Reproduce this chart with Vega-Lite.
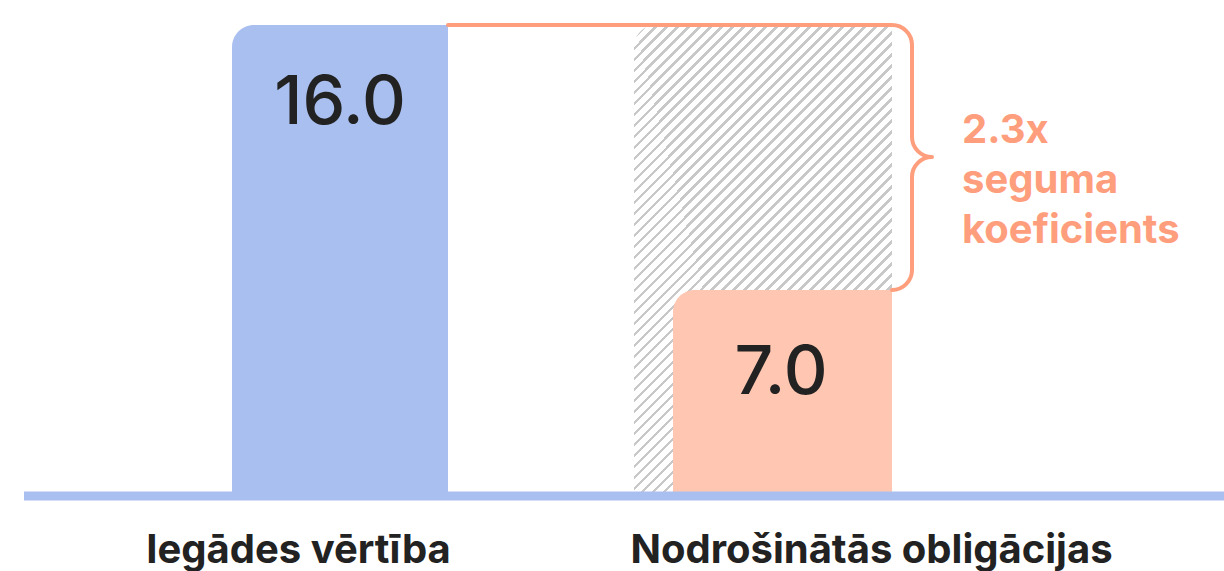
{
"$schema": "https://vega.github.io/schema/vega-lite/v6.json",
"width": 1200,
"height": 471,
"autosize": "none",
"padding": {"left": 24, "top": 25, "right": 0, "bottom": 75},
"background": "white",
"config": {"view": {"stroke": null}},
"layer": [
{
"data": {"values": [{"category": "Nodrošinātās obligācijas", "value": 16, "kind": "seguma vērtība"}]},
"mark": {"type": "bar", "width": 258, "cornerRadiusTopLeft": 22,
"fill": {"gradient": "linear", "x1": 0, "y1": 0, "x2": 0.7873, "y2": 1.4371, "stops": [
{"offset":0,"color":"#c8c8c8"},{"offset":0.0045,"color":"#c8c8c8"},{"offset":0.0045,"color":"#fff"},{"offset":0.0125,"color":"#fff"},
{"offset":0.0125,"color":"#c8c8c8"},{"offset":0.017,"color":"#c8c8c8"},{"offset":0.017,"color":"#fff"},{"offset":0.025,"color":"#fff"},
{"offset":0.025,"color":"#c8c8c8"},{"offset":0.0295,"color":"#c8c8c8"},{"offset":0.0295,"color":"#fff"},{"offset":0.0375,"color":"#fff"},
{"offset":0.0375,"color":"#c8c8c8"},{"offset":0.042,"color":"#c8c8c8"},{"offset":0.042,"color":"#fff"},{"offset":0.05,"color":"#fff"},
{"offset":0.05,"color":"#c8c8c8"},{"offset":0.0545,"color":"#c8c8c8"},{"offset":0.0545,"color":"#fff"},{"offset":0.0625,"color":"#fff"},
{"offset":0.0625,"color":"#c8c8c8"},{"offset":0.067,"color":"#c8c8c8"},{"offset":0.067,"color":"#fff"},{"offset":0.075,"color":"#fff"},
{"offset":0.075,"color":"#c8c8c8"},{"offset":0.0795,"color":"#c8c8c8"},{"offset":0.0795,"color":"#fff"},{"offset":0.0875,"color":"#fff"},
{"offset":0.0875,"color":"#c8c8c8"},{"offset":0.092,"color":"#c8c8c8"},{"offset":0.092,"color":"#fff"},{"offset":0.1,"color":"#fff"},
{"offset":0.1,"color":"#c8c8c8"},{"offset":0.1045,"color":"#c8c8c8"},{"offset":0.1045,"color":"#fff"},{"offset":0.1125,"color":"#fff"},
{"offset":0.1125,"color":"#c8c8c8"},{"offset":0.117,"color":"#c8c8c8"},{"offset":0.117,"color":"#fff"},{"offset":0.125,"color":"#fff"},
{"offset":0.125,"color":"#c8c8c8"},{"offset":0.1295,"color":"#c8c8c8"},{"offset":0.1295,"color":"#fff"},{"offset":0.1375,"color":"#fff"},
{"offset":0.1375,"color":"#c8c8c8"},{"offset":0.142,"color":"#c8c8c8"},{"offset":0.142,"color":"#fff"},{"offset":0.15,"color":"#fff"},
{"offset":0.15,"color":"#c8c8c8"},{"offset":0.1545,"color":"#c8c8c8"},{"offset":0.1545,"color":"#fff"},{"offset":0.1625,"color":"#fff"},
{"offset":0.1625,"color":"#c8c8c8"},{"offset":0.167,"color":"#c8c8c8"},{"offset":0.167,"color":"#fff"},{"offset":0.175,"color":"#fff"},
{"offset":0.175,"color":"#c8c8c8"},{"offset":0.1795,"color":"#c8c8c8"},{"offset":0.1795,"color":"#fff"},{"offset":0.1875,"color":"#fff"},
{"offset":0.1875,"color":"#c8c8c8"},{"offset":0.192,"color":"#c8c8c8"},{"offset":0.192,"color":"#fff"},{"offset":0.2,"color":"#fff"},
{"offset":0.2,"color":"#c8c8c8"},{"offset":0.2045,"color":"#c8c8c8"},{"offset":0.2045,"color":"#fff"},{"offset":0.2125,"color":"#fff"},
{"offset":0.2125,"color":"#c8c8c8"},{"offset":0.217,"color":"#c8c8c8"},{"offset":0.217,"color":"#fff"},{"offset":0.225,"color":"#fff"},
{"offset":0.225,"color":"#c8c8c8"},{"offset":0.2295,"color":"#c8c8c8"},{"offset":0.2295,"color":"#fff"},{"offset":0.2375,"color":"#fff"},
{"offset":0.2375,"color":"#c8c8c8"},{"offset":0.242,"color":"#c8c8c8"},{"offset":0.242,"color":"#fff"},{"offset":0.25,"color":"#fff"},
{"offset":0.25,"color":"#c8c8c8"},{"offset":0.2545,"color":"#c8c8c8"},{"offset":0.2545,"color":"#fff"},{"offset":0.2625,"color":"#fff"},
{"offset":0.2625,"color":"#c8c8c8"},{"offset":0.267,"color":"#c8c8c8"},{"offset":0.267,"color":"#fff"},{"offset":0.275,"color":"#fff"},
{"offset":0.275,"color":"#c8c8c8"},{"offset":0.2795,"color":"#c8c8c8"},{"offset":0.2795,"color":"#fff"},{"offset":0.2875,"color":"#fff"},
{"offset":0.2875,"color":"#c8c8c8"},{"offset":0.292,"color":"#c8c8c8"},{"offset":0.292,"color":"#fff"},{"offset":0.3,"color":"#fff"},
{"offset":0.3,"color":"#c8c8c8"},{"offset":0.3045,"color":"#c8c8c8"},{"offset":0.3045,"color":"#fff"},{"offset":0.3125,"color":"#fff"},
{"offset":0.3125,"color":"#c8c8c8"},{"offset":0.317,"color":"#c8c8c8"},{"offset":0.317,"color":"#fff"},{"offset":0.325,"color":"#fff"},
{"offset":0.325,"color":"#c8c8c8"},{"offset":0.3295,"color":"#c8c8c8"},{"offset":0.3295,"color":"#fff"},{"offset":0.3375,"color":"#fff"},
{"offset":0.3375,"color":"#c8c8c8"},{"offset":0.342,"color":"#c8c8c8"},{"offset":0.342,"color":"#fff"},{"offset":0.35,"color":"#fff"},
{"offset":0.35,"color":"#c8c8c8"},{"offset":0.3545,"color":"#c8c8c8"},{"offset":0.3545,"color":"#fff"},{"offset":0.3625,"color":"#fff"},
{"offset":0.3625,"color":"#c8c8c8"},{"offset":0.367,"color":"#c8c8c8"},{"offset":0.367,"color":"#fff"},{"offset":0.375,"color":"#fff"},
{"offset":0.375,"color":"#c8c8c8"},{"offset":0.3795,"color":"#c8c8c8"},{"offset":0.3795,"color":"#fff"},{"offset":0.3875,"color":"#fff"},
{"offset":0.3875,"color":"#c8c8c8"},{"offset":0.392,"color":"#c8c8c8"},{"offset":0.392,"color":"#fff"},{"offset":0.4,"color":"#fff"},
{"offset":0.4,"color":"#c8c8c8"},{"offset":0.4045,"color":"#c8c8c8"},{"offset":0.4045,"color":"#fff"},{"offset":0.4125,"color":"#fff"},
{"offset":0.4125,"color":"#c8c8c8"},{"offset":0.417,"color":"#c8c8c8"},{"offset":0.417,"color":"#fff"},{"offset":0.425,"color":"#fff"},
{"offset":0.425,"color":"#c8c8c8"},{"offset":0.4295,"color":"#c8c8c8"},{"offset":0.4295,"color":"#fff"},{"offset":0.4375,"color":"#fff"},
{"offset":0.4375,"color":"#c8c8c8"},{"offset":0.442,"color":"#c8c8c8"},{"offset":0.442,"color":"#fff"},{"offset":0.45,"color":"#fff"},
{"offset":0.45,"color":"#c8c8c8"},{"offset":0.4545,"color":"#c8c8c8"},{"offset":0.4545,"color":"#fff"},{"offset":0.4625,"color":"#fff"},
{"offset":0.4625,"color":"#c8c8c8"},{"offset":0.467,"color":"#c8c8c8"},{"offset":0.467,"color":"#fff"},{"offset":0.475,"color":"#fff"},
{"offset":0.475,"color":"#c8c8c8"},{"offset":0.4795,"color":"#c8c8c8"},{"offset":0.4795,"color":"#fff"},{"offset":0.4875,"color":"#fff"},
{"offset":0.4875,"color":"#c8c8c8"},{"offset":0.492,"color":"#c8c8c8"},{"offset":0.492,"color":"#fff"},{"offset":0.5,"color":"#fff"},
{"offset":0.5,"color":"#c8c8c8"},{"offset":0.5045,"color":"#c8c8c8"},{"offset":0.5045,"color":"#fff"},{"offset":0.5125,"color":"#fff"},
{"offset":0.5125,"color":"#c8c8c8"},{"offset":0.517,"color":"#c8c8c8"},{"offset":0.517,"color":"#fff"},{"offset":0.525,"color":"#fff"},
{"offset":0.525,"color":"#c8c8c8"},{"offset":0.5295,"color":"#c8c8c8"},{"offset":0.5295,"color":"#fff"},{"offset":0.5375,"color":"#fff"},
{"offset":0.5375,"color":"#c8c8c8"},{"offset":0.542,"color":"#c8c8c8"},{"offset":0.542,"color":"#fff"},{"offset":0.55,"color":"#fff"},
{"offset":0.55,"color":"#c8c8c8"},{"offset":0.5545,"color":"#c8c8c8"},{"offset":0.5545,"color":"#fff"},{"offset":0.5625,"color":"#fff"},
{"offset":0.5625,"color":"#c8c8c8"},{"offset":0.567,"color":"#c8c8c8"},{"offset":0.567,"color":"#fff"},{"offset":0.575,"color":"#fff"},
{"offset":0.575,"color":"#c8c8c8"},{"offset":0.5795,"color":"#c8c8c8"},{"offset":0.5795,"color":"#fff"},{"offset":0.5875,"color":"#fff"},
{"offset":0.5875,"color":"#c8c8c8"},{"offset":0.592,"color":"#c8c8c8"},{"offset":0.592,"color":"#fff"},{"offset":0.6,"color":"#fff"},
{"offset":0.6,"color":"#c8c8c8"},{"offset":0.6045,"color":"#c8c8c8"},{"offset":0.6045,"color":"#fff"},{"offset":0.6125,"color":"#fff"},
{"offset":0.6125,"color":"#c8c8c8"},{"offset":0.617,"color":"#c8c8c8"},{"offset":0.617,"color":"#fff"},{"offset":0.625,"color":"#fff"},
{"offset":0.625,"color":"#c8c8c8"},{"offset":0.6295,"color":"#c8c8c8"},{"offset":0.6295,"color":"#fff"},{"offset":0.6375,"color":"#fff"},
{"offset":0.6375,"color":"#c8c8c8"},{"offset":0.642,"color":"#c8c8c8"},{"offset":0.642,"color":"#fff"},{"offset":0.65,"color":"#fff"},
{"offset":0.65,"color":"#c8c8c8"},{"offset":0.6545,"color":"#c8c8c8"},{"offset":0.6545,"color":"#fff"},{"offset":0.6625,"color":"#fff"},
{"offset":0.6625,"color":"#c8c8c8"},{"offset":0.667,"color":"#c8c8c8"},{"offset":0.667,"color":"#fff"},{"offset":0.675,"color":"#fff"},
{"offset":0.675,"color":"#c8c8c8"},{"offset":0.6795,"color":"#c8c8c8"},{"offset":0.6795,"color":"#fff"},{"offset":0.6875,"color":"#fff"},
{"offset":0.6875,"color":"#c8c8c8"},{"offset":0.692,"color":"#c8c8c8"},{"offset":0.692,"color":"#fff"},{"offset":0.7,"color":"#fff"},
{"offset":0.7,"color":"#c8c8c8"},{"offset":0.7045,"color":"#c8c8c8"},{"offset":0.7045,"color":"#fff"},{"offset":0.7125,"color":"#fff"},
{"offset":0.7125,"color":"#c8c8c8"},{"offset":0.717,"color":"#c8c8c8"},{"offset":0.717,"color":"#fff"},{"offset":0.725,"color":"#fff"},
{"offset":0.725,"color":"#c8c8c8"},{"offset":0.7295,"color":"#c8c8c8"},{"offset":0.7295,"color":"#fff"},{"offset":0.7375,"color":"#fff"},
{"offset":0.7375,"color":"#c8c8c8"},{"offset":0.742,"color":"#c8c8c8"},{"offset":0.742,"color":"#fff"},{"offset":0.75,"color":"#fff"},
{"offset":0.75,"color":"#c8c8c8"},{"offset":0.7545,"color":"#c8c8c8"},{"offset":0.7545,"color":"#fff"},{"offset":0.7625,"color":"#fff"},
{"offset":0.7625,"color":"#c8c8c8"},{"offset":0.767,"color":"#c8c8c8"},{"offset":0.767,"color":"#fff"},{"offset":0.775,"color":"#fff"},
{"offset":0.775,"color":"#c8c8c8"},{"offset":0.7795,"color":"#c8c8c8"},{"offset":0.7795,"color":"#fff"},{"offset":0.7875,"color":"#fff"},
{"offset":0.7875,"color":"#c8c8c8"},{"offset":0.792,"color":"#c8c8c8"},{"offset":0.792,"color":"#fff"},{"offset":0.8,"color":"#fff"},
{"offset":0.8,"color":"#c8c8c8"},{"offset":0.8045,"color":"#c8c8c8"},{"offset":0.8045,"color":"#fff"},{"offset":0.8125,"color":"#fff"},
{"offset":0.8125,"color":"#c8c8c8"},{"offset":0.817,"color":"#c8c8c8"},{"offset":0.817,"color":"#fff"},{"offset":0.825,"color":"#fff"},
{"offset":0.825,"color":"#c8c8c8"},{"offset":0.8295,"color":"#c8c8c8"},{"offset":0.8295,"color":"#fff"},{"offset":0.8375,"color":"#fff"},
{"offset":0.8375,"color":"#c8c8c8"},{"offset":0.842,"color":"#c8c8c8"},{"offset":0.842,"color":"#fff"},{"offset":0.85,"color":"#fff"},
{"offset":0.85,"color":"#c8c8c8"},{"offset":0.8545,"color":"#c8c8c8"},{"offset":0.8545,"color":"#fff"},{"offset":0.8625,"color":"#fff"},
{"offset":0.8625,"color":"#c8c8c8"},{"offset":0.867,"color":"#c8c8c8"},{"offset":0.867,"color":"#fff"},{"offset":0.875,"color":"#fff"},
{"offset":0.875,"color":"#c8c8c8"},{"offset":0.8795,"color":"#c8c8c8"},{"offset":0.8795,"color":"#fff"},{"offset":0.8875,"color":"#fff"},
{"offset":0.8875,"color":"#c8c8c8"},{"offset":0.892,"color":"#c8c8c8"},{"offset":0.892,"color":"#fff"},{"offset":0.9,"color":"#fff"},
{"offset":0.9,"color":"#c8c8c8"},{"offset":0.9045,"color":"#c8c8c8"},{"offset":0.9045,"color":"#fff"},{"offset":0.9125,"color":"#fff"},
{"offset":0.9125,"color":"#c8c8c8"},{"offset":0.917,"color":"#c8c8c8"},{"offset":0.917,"color":"#fff"},{"offset":0.925,"color":"#fff"},
{"offset":0.925,"color":"#c8c8c8"},{"offset":0.9295,"color":"#c8c8c8"},{"offset":0.9295,"color":"#fff"},{"offset":0.9375,"color":"#fff"},
{"offset":0.9375,"color":"#c8c8c8"},{"offset":0.942,"color":"#c8c8c8"},{"offset":0.942,"color":"#fff"},{"offset":0.95,"color":"#fff"},
{"offset":0.95,"color":"#c8c8c8"},{"offset":0.9545,"color":"#c8c8c8"},{"offset":0.9545,"color":"#fff"},{"offset":0.9625,"color":"#fff"},
{"offset":0.9625,"color":"#c8c8c8"},{"offset":0.967,"color":"#c8c8c8"},{"offset":0.967,"color":"#fff"},{"offset":0.975,"color":"#fff"},
{"offset":0.975,"color":"#c8c8c8"},{"offset":0.9795,"color":"#c8c8c8"},{"offset":0.9795,"color":"#fff"},{"offset":0.9875,"color":"#fff"},
{"offset":0.9875,"color":"#c8c8c8"},{"offset":0.992,"color":"#c8c8c8"},{"offset":0.992,"color":"#fff"},{"offset":1,"color":"#fff"}
]}},
"encoding": {
"x": {"field": "category", "type": "nominal", "sort": null,
"scale": {"domain": ["Iegādes vērtība", "Nodrošinātās obligācijas"], "range": [104.5, 950.5], "paddingInner": 0, "paddingOuter": 0},
"axis": {"title": null, "domain": false, "ticks": false, "tickSize": 0, "grid": false, "labelAngle": 0,
"labelFont": "Inter", "labelFontSize": 40, "labelFontWeight": 700, "labelColor": "#222222",
"labelPadding": 66, "labelBaseline": "alphabetic", "labelAlign": "center", "labelLimit": 1000, "labelOverlap": false,
"labelOffset": {"condition": {"test": "datum.value === 'Iegādes vērtība'", "value": -41.5}, "value": 108.5}}},
"y": {"field": "value", "type": "quantitative", "scale": {"domain": [0, 16], "nice": false, "zero": true}, "axis": null}
}
},
{
"data": {"values": [{"category": "Iegādes vērtība", "value": 16}]},
"encoding": {
"x": {"field": "category", "type": "nominal"},
"y": {"field": "value", "type": "quantitative"}
},
"layer": [
{"mark": {"type": "bar", "width": 216, "cornerRadiusTopLeft": 22, "color": "#A9BFEF"}},
{"mark": {"type": "text", "font": "Inter", "fontSize": 68, "fontWeight": 500, "color": "#222222", "align": "center", "baseline": "alphabetic", "dy": 99},
"encoding": {"text": {"field": "value", "type": "quantitative", "format": ".1f"}}}
]
},
{
"data": {"values": [{"category": "Nodrošinātās obligācijas", "value": 7}]},
"encoding": {
"x": {"field": "category", "type": "nominal"},
"y": {"field": "value", "type": "quantitative"}
},
"layer": [
{"mark": {"type": "bar", "width": 219, "xOffset": 19.5, "cornerRadiusTopLeft": 22, "color": "#FFC6B2"}},
{"mark": {"type": "text", "font": "Inter", "fontSize": 68, "fontWeight": 500, "color": "#222222", "align": "center", "baseline": "alphabetic", "dy": 104, "xOffset": 18},
"encoding": {"text": {"field": "value", "type": "quantitative", "format": ".1f"}}}
]
},
{
"data": {"values": [{"category": "Nodrošinātās obligācijas", "value": 16, "note": ["2.3x", "seguma", "koeficients"]}]},
"encoding": {
"x": {"field": "category", "type": "nominal"},
"y": {"field": "value", "type": "quantitative"}
},
"layer": [
{"mark": {"type": "point", "shape": "M -3.15 0 H 1.29 C 1.4 0 1.49 0.09 1.49 0.2 V 1.12 C 1.49 1.23 1.58 1.32 1.69 1.32 C 1.58 1.32 1.49 1.41 1.49 1.52 V 2.45 C 1.49 2.56 1.4 2.65 1.29 2.65",
"size": 40000, "filled": false, "stroke": "#FF9E7D", "strokeWidth": 4, "opacity": 1, "strokeCap": "round", "strokeJoin": "round"}},
{"mark": {"type": "text", "font": "Inter", "fontSize": 40, "fontWeight": 700, "color": "#FF9E7D", "align": "left", "baseline": "alphabetic", "dx": 199, "dy": 118, "lineHeight": 50},
"encoding": {"text": {"field": "note", "type": "nominal"}}}
]
},
{
"data": {"values": [{"baseline": 0}]},
"mark": {"type": "rule", "color": "#A9BFEF", "strokeWidth": 9},
"encoding": {"y": {"field": "baseline", "type": "quantitative"}}
}
]
}
